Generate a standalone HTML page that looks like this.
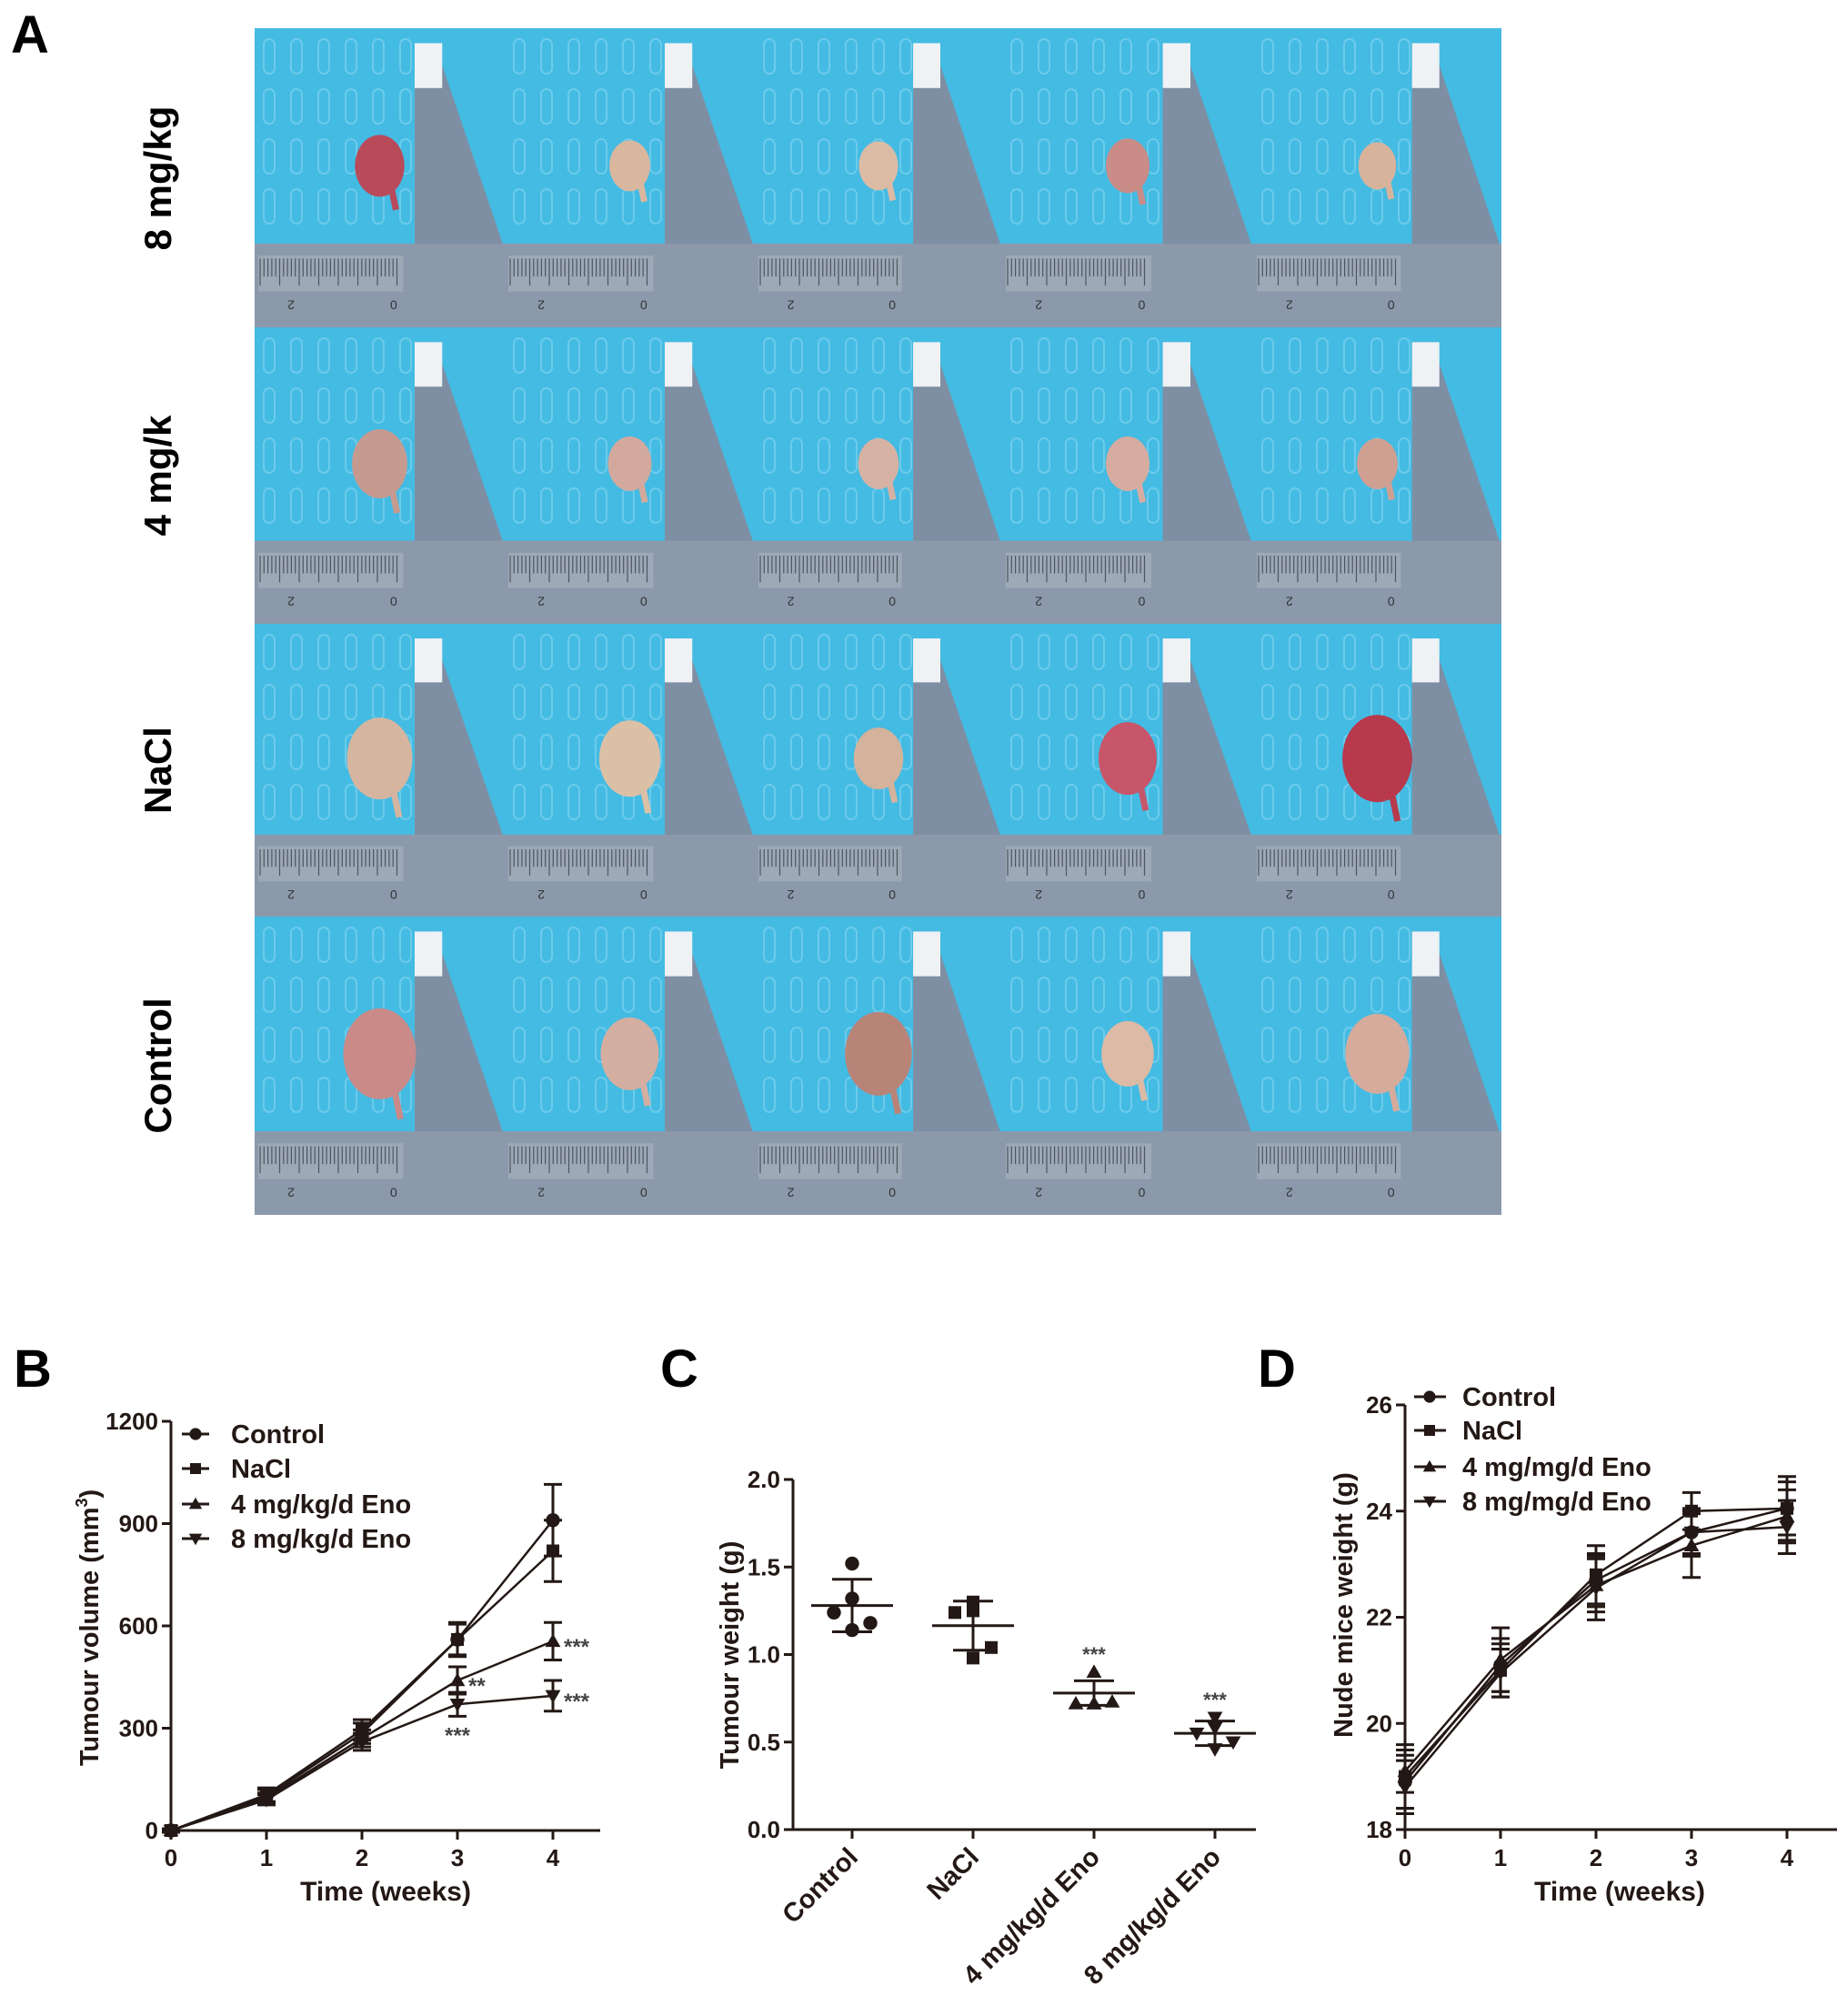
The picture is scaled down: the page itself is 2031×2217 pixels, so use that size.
<!DOCTYPE html>
<html><head><meta charset="utf-8"><style>
html,body{margin:0;padding:0;background:#fff;}
svg{display:block;font-family:"Liberation Sans",Arial,sans-serif;font-weight:bold;}
</style></head><body>
<svg id="fig" width="2031" height="2217" viewBox="0 0 2031 2217" xmlns="http://www.w3.org/2000/svg">
<g id="panelA"></g>
<text x="12" y="58" font-size="58">A</text>
<text transform="translate(188,196) rotate(-90)" text-anchor="middle" font-size="42">8 mg/kg</text>
<text transform="translate(188,523) rotate(-90)" text-anchor="middle" font-size="42">4 mg/k</text>
<text transform="translate(188,847) rotate(-90)" text-anchor="middle" font-size="42">NaCl</text>
<text transform="translate(188,1172) rotate(-90)" text-anchor="middle" font-size="42">Control</text>
<text x="15" y="1525" font-size="58">B</text>
<text x="726" y="1525" font-size="58">C</text>
<text x="1383" y="1525" font-size="58">D</text>
<g id="chartB"></g>
<g id="chartC"></g>
<g id="chartD"></g>
</svg>
<script>
const NS="http://www.w3.org/2000/svg";
function mk(parent,tag,attrs,text){const e=document.createElementNS(NS,tag);for(const k in attrs)e.setAttribute(k,attrs[k]);if(text!==undefined)e.textContent=text;parent.appendChild(e);return e;}

// ---------- Chart B data ----------
const weeksB=[0,1,2,3,4];
const seriesNames=["Control","NaCl","4 mg/kg/d Eno","8 mg/kg/d Eno"];
const volControl=[0,100,285,560,910];
const volNaCl=[0,105,295,560,820];
const vol4mg=[0,95,270,440,555];
const vol8mg=[0,90,260,370,395];
const errControl=[5,20,30,50,105];
const errNaCl=[5,20,30,45,90];
const err4mg=[5,15,25,40,55];
const err8mg=[5,15,25,35,45];
const yTicksB=[0,300,600,900,1200];

// ---------- Chart C data ----------
const groupsC=["Control","NaCl","4 mg/kg/d Eno","8 mg/kg/d Eno"];
const ptsControl=[1.52,1.32,1.24,1.18,1.14];
const ptsNaCl=[1.30,1.25,1.24,1.04,0.98];
const pts4mg=[0.90,0.72,0.72,0.73,0.72];
const pts8mg=[0.64,0.58,0.55,0.50,0.46];
const meanC=[1.28,1.165,0.78,0.55];
const sdC=[0.15,0.14,0.07,0.07];
const yTicksC=[0.0,0.5,1.0,1.5,2.0];

// ---------- Chart D data ----------
const weeksD=[0,1,2,3,4];
const seriesNamesD=["Control","NaCl","4 mg/mg/d Eno","8 mg/mg/d Eno"];
const wtControl=[18.9,21.1,22.7,23.6,24.05];
const wtNaCl=[19.0,21.0,22.8,24.0,24.05];
const wt4mg=[19.1,21.2,22.6,23.35,23.9];
const wt8mg=[18.8,20.95,22.55,23.6,23.7];
const wtErrControl=[0.5,0.5,0.5,0.45,0.5];
const wtErrNaCl=[0.6,0.5,0.55,0.35,0.6];
const wtErr4mg=[0.4,0.6,0.5,0.6,0.5];
const wtErr8mg=[0.5,0.45,0.6,0.4,0.5];
const yTicksD=[18,20,22,24,26];

function marker(g,shape,x,y,s){
  let e;
  if(shape==="circle") e=mk(g,"circle",{cx:x,cy:y,r:s*0.55,fill:"#231815"});
  else if(shape==="square") e=mk(g,"rect",{x:x-s*0.5,y:y-s*0.5,width:s,height:s,fill:"#231815"});
  else if(shape==="up") e=mk(g,"polygon",{points:`${x},${y-s*0.6} ${x-s*0.6},${y+s*0.45} ${x+s*0.6},${y+s*0.45}`,fill:"#231815"});
  else e=mk(g,"polygon",{points:`${x},${y+s*0.6} ${x-s*0.6},${y-s*0.45} ${x+s*0.6},${y-s*0.45}`,fill:"#231815"});
  
  
  return e;
}
const shapes=["circle","square","up","down"];

// ===== Panel A photos =====
(function(){
  const g=document.getElementById("panelA");
  const colX=[280,555,830,1102,1378,1651];
  const rowY=[31,360,686,1008,1336];
  const tumourCol=[["#b94a5a","#d9b79f","#dcbba5","#c98c86","#d7b39c"],
                   ["#c79a90","#d3a99e","#d6b2a4","#d6aca0","#cfa092"],
                   ["#d6b5a0","#dcc0a6","#d4b29c","#c8566a","#b8384c"],
                   ["#c98a88","#d4aea0","#b88478","#dcbaa5","#d6ab9c"]];
  const tumourR=[[34,28,27,30,26],[38,30,28,30,28],[45,42,34,40,48],[50,40,46,36,44]];
  for(let r=0;r<4;r++)for(let c=0;c<5;c++){
    const x0=colX[c],y0=rowY[r],w=colX[c+1]-colX[c],h=rowY[r+1]-rowY[r];
    const t=mk(g,"g",{});
    
    
    mk(t,"rect",{x:x0,y:y0,width:w,height:h,fill:"#44bbe3"});
    for(let k=0;k<6;k++)for(let m=0;m<4;m++){
      mk(t,"rect",{x:x0+10+k*30,y:y0+12+m*55,width:12,height:38,rx:6,fill:"none",stroke:"#6ccbea","stroke-width":2});
    }
    mk(t,"polygon",{points:`${x0+w*0.64},${y0+h*0.05} ${x0+w*0.72},${y0+h*0.05} ${x0+w},${y0+h*0.74} ${x0+w},${y0+h*0.74} ${x0+w*0.64},${y0+h*0.74}`,fill:"#7e8fa3"});
    mk(t,"rect",{x:x0+w*0.64,y:y0+h*0.05,width:w*0.11,height:h*0.15,fill:"#eef2f5"});
    mk(t,"rect",{x:x0,y:y0+h*0.72,width:w,height:h*0.28,fill:"#8b99ab"});
    mk(t,"rect",{x:x0+4,y:y0+h*0.76,width:w*0.58,height:h*0.12,fill:"#9ea9b7"});
    for(let k=0;k<36;k++){
      mk(t,"line",{x1:x0+6+k*4.3,y1:y0+h*0.77,x2:x0+6+k*4.3,y2:y0+h*(k%5===0?0.86:0.83),stroke:"#4d5560","stroke-width":1.2});
    }
    mk(t,"text",{x:x0+w*0.16,y:y0+h*0.95,"font-size":14,fill:"#333","font-weight":"normal",transform:`rotate(180 ${x0+w*0.16} ${y0+h*0.93})`},"2");
    mk(t,"text",{x:x0+w*0.57,y:y0+h*0.95,"font-size":14,fill:"#333","font-weight":"normal",transform:`rotate(180 ${x0+w*0.57} ${y0+h*0.93})`},"0");
    const tr=tumourR[r][c];
    mk(t,"ellipse",{cx:x0+w*0.50,cy:y0+h*0.46,rx:tr*0.8,ry:tr,fill:tumourCol[r][c]});
    mk(t,"rect",{x:x0+w*0.50+4,y:y0+h*0.46+tr*0.6,width:7,height:tr*0.9,fill:tumourCol[r][c],transform:`rotate(-12 ${x0+w*0.5} ${y0+h*0.46})`});
  }
})();

// ===== Chart B =====
(function(){
  const g=document.getElementById("chartB");
  const X=w=>188+w*105, Y=v=>2013-v*(450/1200);
  mk(g,"line",{x1:188,y1:1563,x2:188,y2:2013,stroke:"#231815","stroke-width":3});
  mk(g,"line",{x1:188,y1:2013,x2:660,y2:2013,stroke:"#231815","stroke-width":3});
  yTicksB.forEach(v=>{
    mk(g,"line",{x1:178,y1:Y(v),x2:188,y2:Y(v),stroke:"#231815","stroke-width":3});
    const t=mk(g,"text",{x:174,y:Y(v)+9,"text-anchor":"end","font-size":26,fill:"#231815"},String(v));
    
    
  });
  weeksB.forEach(w=>{
    mk(g,"line",{x1:X(w),y1:2013,x2:X(w),y2:2023,stroke:"#231815","stroke-width":3});
    const t=mk(g,"text",{x:X(w),y:2052,"text-anchor":"middle","font-size":26,fill:"#231815"},String(w));
    
    
  });
  const xt=mk(g,"text",{x:424,y:2090,"text-anchor":"middle","font-size":30,fill:"#231815"},"Time (weeks)");
  
  
  const yt=mk(g,"text",{transform:"translate(108,1790) rotate(-90)","text-anchor":"middle","font-size":29,fill:"#231815"});
  
  
  yt.innerHTML='Tumour volume (mm<tspan dy="-12" font-size="18">3</tspan><tspan dy="12">)</tspan>';
  const vals=[volControl,volNaCl,vol4mg,vol8mg], errs=[errControl,errNaCl,err4mg,err8mg];
  vals.forEach((s,i)=>{
    const p=mk(g,"polyline",{points:s.map((v,j)=>X(weeksB[j])+","+Y(v)).join(" "),fill:"none",stroke:"#231815","stroke-width":2.5});
    
    
    s.forEach((v,j)=>{
      const x=X(weeksB[j]),e=errs[i][j];
      mk(g,"line",{x1:x,y1:Y(v-e),x2:x,y2:Y(v+e),stroke:"#231815","stroke-width":3});
      mk(g,"line",{x1:x-10,y1:Y(v-e),x2:x+10,y2:Y(v-e),stroke:"#231815","stroke-width":3});
      mk(g,"line",{x1:x-10,y1:Y(v+e),x2:x+10,y2:Y(v+e),stroke:"#231815","stroke-width":3});
      marker(g,shapes[i],x,Y(v),14);
    });
  });
  [[X(3)+12,Y(vol4mg[3])+14,"**","start"],[X(3),Y(vol8mg[3])+42,"***","middle"],[X(4)+12,Y(vol4mg[4])+14,"***","start"],[X(4)+12,Y(vol8mg[4])+14,"***","start"]].forEach(a=>{
    const t=mk(g,"text",{x:a[0],y:a[1],"font-size":24,fill:"#444","text-anchor":a[3]},a[2]);
    
    
  });
  const ly=[1577,1615,1654,1692];
  seriesNames.forEach((n,i)=>{
    const lg=mk(g,"g",{});
    
    
    mk(lg,"line",{x1:200,y1:ly[i],x2:230,y2:ly[i],stroke:"#231815","stroke-width":3});
    marker(lg,shapes[i],215,ly[i],12);
    mk(lg,"text",{x:254,y:ly[i]+10,"font-size":29,fill:"#231815"},n);
  });
})();

// ===== Chart C =====
(function(){
  const g=document.getElementById("chartC");
  const catX=[937,1070,1203,1336], Y=v=>2012-v*192.5;
  mk(g,"line",{x1:872,y1:1627,x2:872,y2:2012,stroke:"#231815","stroke-width":3});
  mk(g,"line",{x1:872,y1:2012,x2:1381,y2:2012,stroke:"#231815","stroke-width":3});
  yTicksC.forEach(v=>{
    mk(g,"line",{x1:862,y1:Y(v),x2:872,y2:Y(v),stroke:"#231815","stroke-width":3});
    const t=mk(g,"text",{x:858,y:Y(v)+9,"text-anchor":"end","font-size":26,fill:"#231815"},v.toFixed(1));
    
    
  });
  groupsC.forEach((n,i)=>{
    mk(g,"line",{x1:catX[i],y1:2012,x2:catX[i],y2:2022,stroke:"#231815","stroke-width":3});
    const t=mk(g,"text",{x:catX[i]+8,y:2044,"text-anchor":"end","font-size":29,fill:"#231815",transform:`rotate(-45 ${catX[i]+8} 2044)`},n);
    
    
  });
  const yt=mk(g,"text",{transform:"translate(812,1820) rotate(-90)","text-anchor":"middle","font-size":29,fill:"#231815"},"Tumour weight (g)");
  
  
  const pts=[ptsControl,ptsNaCl,pts4mg,pts8mg];
  const jitter=[0,0,-20,20,0];
  pts.forEach((s,i)=>{
    const x=catX[i];
    s.forEach((v,j)=>marker(g,shapes[i],x+jitter[j],Y(v),14));
    const m=mk(g,"line",{x1:x-45,y1:Y(meanC[i]),x2:x+45,y2:Y(meanC[i]),stroke:"#231815","stroke-width":3});
    
    
    mk(g,"line",{x1:x,y1:Y(meanC[i]-sdC[i]),x2:x,y2:Y(meanC[i]+sdC[i]),stroke:"#231815","stroke-width":3});
    mk(g,"line",{x1:x-22,y1:Y(meanC[i]-sdC[i]),x2:x+22,y2:Y(meanC[i]-sdC[i]),stroke:"#231815","stroke-width":3});
    mk(g,"line",{x1:x-22,y1:Y(meanC[i]+sdC[i]),x2:x+22,y2:Y(meanC[i]+sdC[i]),stroke:"#231815","stroke-width":3});
    if(i>=2){
      const t=mk(g,"text",{x:x,y:Y(Math.max(...s))-12,"text-anchor":"middle","font-size":22,fill:"#444"},"***");
      
      
    }
  });
})();

// ===== Chart D =====
(function(){
  const g=document.getElementById("chartD");
  const X=w=>1545+w*105, Y=v=>2012-(v-18)*(467/8);
  mk(g,"line",{x1:1545,y1:Y(26),x2:1545,y2:2012,stroke:"#231815","stroke-width":3});
  mk(g,"line",{x1:1545,y1:2012,x2:2020,y2:2012,stroke:"#231815","stroke-width":3});
  yTicksD.forEach(v=>{
    mk(g,"line",{x1:1535,y1:Y(v),x2:1545,y2:Y(v),stroke:"#231815","stroke-width":3});
    const t=mk(g,"text",{x:1531,y:Y(v)+9,"text-anchor":"end","font-size":26,fill:"#231815"},String(v));
    
    
  });
  weeksD.forEach(w=>{
    mk(g,"line",{x1:X(w),y1:2012,x2:X(w),y2:2022,stroke:"#231815","stroke-width":3});
    const t=mk(g,"text",{x:X(w),y:2052,"text-anchor":"middle","font-size":26,fill:"#231815"},String(w));
    
    
  });
  const xt=mk(g,"text",{x:1781,y:2090,"text-anchor":"middle","font-size":30,fill:"#231815"},"Time (weeks)");
  
  
  const yt=mk(g,"text",{transform:"translate(1487,1765) rotate(-90)","text-anchor":"middle","font-size":29,fill:"#231815"},"Nude mice weight (g)");
  
  
  const vals=[wtControl,wtNaCl,wt4mg,wt8mg], errs=[wtErrControl,wtErrNaCl,wtErr4mg,wtErr8mg];
  vals.forEach((s,i)=>{
    const p=mk(g,"polyline",{points:s.map((v,j)=>X(weeksD[j])+","+Y(v)).join(" "),fill:"none",stroke:"#231815","stroke-width":2.5});
    
    
    s.forEach((v,j)=>{
      const x=X(weeksD[j]),e=errs[i][j];
      mk(g,"line",{x1:x,y1:Y(v-e),x2:x,y2:Y(v+e),stroke:"#231815","stroke-width":3});
      mk(g,"line",{x1:x-10,y1:Y(v-e),x2:x+10,y2:Y(v-e),stroke:"#231815","stroke-width":3});
      mk(g,"line",{x1:x-10,y1:Y(v+e),x2:x+10,y2:Y(v+e),stroke:"#231815","stroke-width":3});
      marker(g,shapes[i],x,Y(v),14);
    });
  });
  const ly=[1536,1573,1613,1651];
  seriesNamesD.forEach((n,i)=>{
    const lg=mk(g,"g",{});
    
    
    mk(lg,"line",{x1:1555,y1:ly[i],x2:1590,y2:ly[i],stroke:"#231815","stroke-width":3});
    marker(lg,shapes[i],1572,ly[i],12);
    mk(lg,"text",{x:1608,y:ly[i]+10,"font-size":29,fill:"#231815"},n);
  });
})();
</script>
</body></html>
